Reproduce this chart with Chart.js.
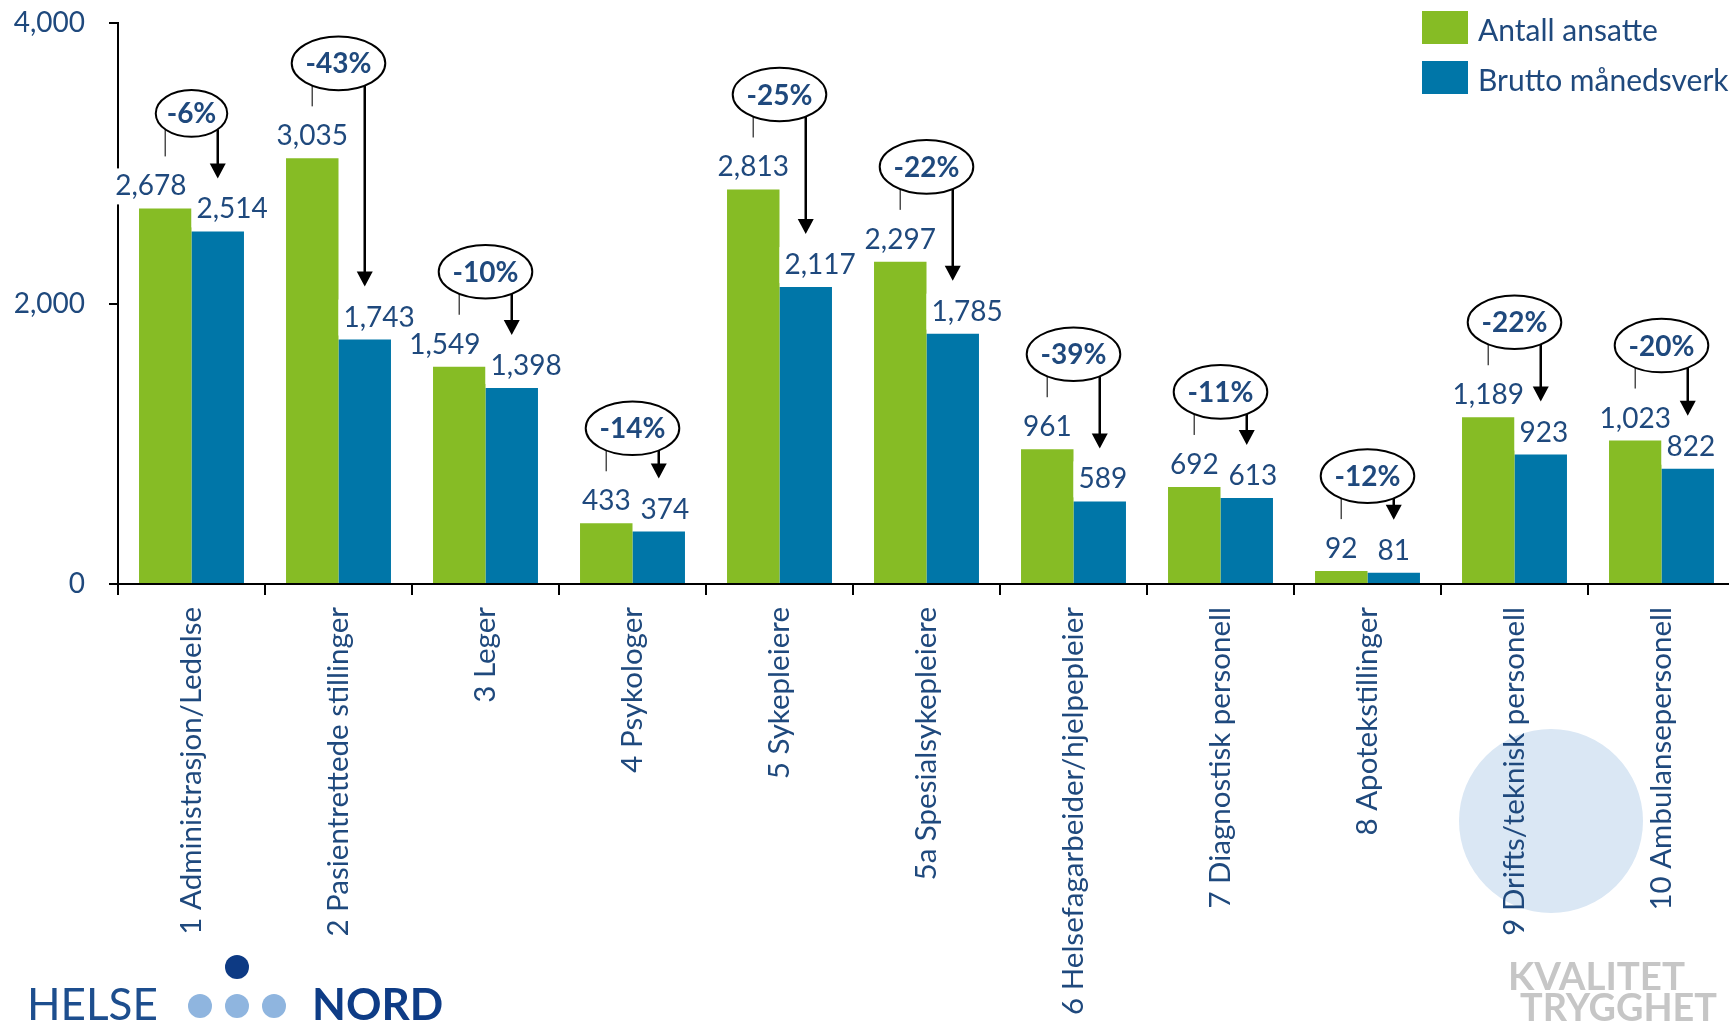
<!DOCTYPE html>
<html>
<head>
<meta charset="utf-8">
<script src="https://cdn.jsdelivr.net/npm/chart.js@4.4.1/dist/chart.umd.min.js"></script>
<style>
  html, body { margin: 0; padding: 0; background: #fff; overflow: hidden; }
  #wrap { position: relative; width: 1736px; height: 1022px; }
</style>
</head>
<body>
<div id="wrap"><canvas id="c" width="1736" height="1022"></canvas></div>
<script>
// Staff categories (stillingsgrupper)
const categories = [
  '1 Administrasjon/Ledelse',
  '2 Pasientrettede stillinger',
  '3 Leger',
  '4 Psykologer',
  '5 Sykepleiere',
  '5a Spesialsykepleiere',
  '6 Helsefagarbeider/hjelpepleier',
  '7 Diagnostisk personell',
  '8 Apotekstillinger',
  '9 Drifts/teknisk personell',
  '10 Ambulansepersonell'
];
const seriesNames = ['Antall ansatte', 'Brutto månedsverk'];
const antallAnsatte    = [2678, 3035, 1549, 433, 2813, 2297, 961, 692, 92, 1189, 1023];
const bruttoManedsverk = [2514, 1743, 1398, 374, 2117, 1785, 589, 613, 81, 923, 822];
const changeLabels = ['-6%', '-43%', '-10%', '-14%', '-25%', '-22%', '-39%', '-11%', '-12%', '-22%', '-20%'];
const yTicks = [0, 2000, 4000];

const GREEN = '#86BC25';
const BLUE = '#0076A8';
const TEXT = '#1F497D';
const FONT = 'Lato, "Open Sans", sans-serif';

const fmt = v => v.toLocaleString('en-US');

const decor = {
  id: 'decor',
  beforeDraw(chart) {
    const ctx = chart.ctx;
    ctx.save();
    ctx.fillStyle = '#DAE7F4';
    ctx.beginPath();
    ctx.arc(1551, 821, 92, 0, Math.PI * 2);
    ctx.fill();
    ctx.restore();
  },
  afterDatasetsDraw(chart) {
    const ctx = chart.ctx;
    const m0 = chart.getDatasetMeta(0), m1 = chart.getDatasetMeta(1);
    ctx.save();
    // value labels on white boxes
    ctx.font = `28px ${FONT}`;
    ctx.textAlign = 'center';
    ctx.textBaseline = 'alphabetic';
    for (let i = 0; i < categories.length; i++) {
      const g = m0.data[i], b = m1.data[i];
      const gText = fmt(antallAnsatte[i]), bText = fmt(bruttoManedsverk[i]);
      const gw = ctx.measureText(gText).width, bw = ctx.measureText(bText).width;
      let gx = g.x, bx = b.x;
      const gBase = g.y - 13, bBase = b.y - 13;
      const greenRight = g.x + g.width / 2;
      let blueShifted = false;
      // keep the second label clear of the neighbouring bar
      if (bBase > g.y && bx - bw / 2 < greenRight + 2) {
        bx = greenRight + 5 + bw / 2;
        blueShifted = true;
      }
      // keep the two labels apart when they sit at about the same height
      if (Math.abs(gBase - bBase) < 25) {
        const gap = (bx - bw / 2) - (gx + gw / 2);
        if (gap < 10) {
          if (blueShifted) gx -= (10 - gap); else bx += (10 - gap);
        }
      }
      [[gText, gx, gBase, gw], [bText, bx, bBase, bw]].forEach(([t, x, y, w]) => {
        ctx.fillStyle = '#fff';
        ctx.fillRect(x - w / 2 - 5, y - 27, w + 10, 36);
        ctx.fillStyle = TEXT;
        ctx.fillText(t, x, y);
      });
    }
    // change callouts
    ctx.font = `bold 28px ${FONT}`;
    ctx.textBaseline = 'middle';
    for (let i = 0; i < categories.length; i++) {
      const g = m0.data[i], b = m1.data[i];
      const label = changeLabels[i];
      const tw = ctx.measureText(label).width;
      const rx = 0.68 * tw + 2, ry = 0.21 * tw + 13;
      const cx = (g.x + b.x) / 2, cy = g.y - 95;
      const yOn = x => {
        const d = (x - cx) / rx;
        return Math.abs(d) < 1 ? cy + ry * Math.sqrt(1 - d * d) : cy;
      };
      // leader line to the first bar
      ctx.strokeStyle = '#4d4d4d';
      ctx.lineWidth = 1.5;
      ctx.beginPath();
      ctx.moveTo(g.x, g.y - 52);
      ctx.lineTo(g.x, yOn(g.x));
      ctx.stroke();
      // arrow to the second bar
      const tipY = b.y - 53;
      ctx.strokeStyle = '#000';
      ctx.fillStyle = '#000';
      ctx.lineWidth = 2.5;
      ctx.beginPath();
      ctx.moveTo(b.x, yOn(b.x));
      ctx.lineTo(b.x, tipY - 12);
      ctx.stroke();
      ctx.beginPath();
      ctx.moveTo(b.x - 8, tipY - 15);
      ctx.lineTo(b.x + 8, tipY - 15);
      ctx.lineTo(b.x, tipY);
      ctx.closePath();
      ctx.fill();
      // ellipse
      ctx.beginPath();
      ctx.ellipse(cx, cy, rx, ry, 0, 0, Math.PI * 2);
      ctx.fillStyle = '#fff';
      ctx.fill();
      ctx.lineWidth = 2;
      ctx.strokeStyle = '#000';
      ctx.stroke();
      ctx.fillStyle = TEXT;
      ctx.fillText(label, cx, cy + 1);
    }
    ctx.restore();
  },
  afterDraw(chart) {
    const ctx = chart.ctx;
    ctx.save();
    // legend
    const ds = chart.data.datasets;
    ctx.font = `30px ${FONT}`;
    ctx.textAlign = 'left';
    ctx.textBaseline = 'middle';
    ds.forEach((d, k) => {
      const y = 11 + k * 50;
      ctx.fillStyle = d.backgroundColor;
      ctx.fillRect(1422, y, 46, 33);
      ctx.fillStyle = TEXT;
      ctx.fillText(d.label, 1478, y + 20);
    });
    // HELSE NORD logo
    ctx.textBaseline = 'alphabetic';
    ctx.fillStyle = '#1D4E8E';
    ctx.font = `44px ${FONT}`;
    ctx.fillText('HELSE', 27, 1020, 136);
    ctx.fillStyle = '#0E3C86';
    ctx.font = `bold 44px ${FONT}`;
    ctx.fillText('NORD', 312, 1020, 133);
    ctx.fillStyle = '#8FB5DF';
    [200, 237, 274].forEach(x => { ctx.beginPath(); ctx.arc(x, 1006, 12, 0, Math.PI * 2); ctx.fill(); });
    ctx.fillStyle = '#0D3A84';
    ctx.beginPath(); ctx.arc(237, 967, 12, 0, Math.PI * 2); ctx.fill();
    // KVALITET TRYGGHET mark
    ctx.filter = 'blur(0.7px)';
    ctx.fillStyle = '#C6C6C6';
    ctx.font = `bold 39px ${FONT}`;
    ctx.fillText('KVALITET', 1508, 990, 177);
    ctx.fillText('TRYGGHET', 1520, 1021, 197);
    ctx.restore();
  }
};

new Chart(document.getElementById('c'), {
  type: 'bar',
  data: {
    labels: categories,
    datasets: [
      { label: seriesNames[0], data: antallAnsatte, backgroundColor: GREEN, borderWidth: 0, categoryPercentage: 0.714, barPercentage: 1 },
      { label: seriesNames[1], data: bruttoManedsverk, backgroundColor: BLUE, borderWidth: 0, categoryPercentage: 0.714, barPercentage: 1 }
    ]
  },
  options: {
    responsive: false,
    animation: false,
    layout: { padding: { top: 23, right: 1, left: 0, bottom: 0 } },
    plugins: { legend: { display: false }, tooltip: { enabled: false } },
    scales: {
      x: {
        grid: { drawOnChartArea: false, color: '#000', lineWidth: 2, tickLength: 11, offset: true },
        border: { color: '#000', width: 2 },
        ticks: { color: TEXT, font: { family: FONT, size: 29.5 }, minRotation: 90, maxRotation: 90, padding: 12, autoSkip: false },
        afterFit(s) { s.height = 1022 - 584; }
      },
      y: {
        min: yTicks[0],
        max: yTicks[yTicks.length - 1],
        afterBuildTicks(s) { s.ticks = yTicks.map(v => ({ value: v })); },
        grid: { drawOnChartArea: false, color: '#000', lineWidth: 2, tickLength: 9 },
        border: { color: '#000', width: 2 },
        ticks: { color: TEXT, font: { family: FONT, size: 28 }, padding: 24, callback: v => fmt(v) },
        afterFit(s) { s.width = 118; s.paddingTop = 0; s.paddingBottom = 0; }
      }
    }
  },
  plugins: [decor]
});
</script>
</body>
</html>
